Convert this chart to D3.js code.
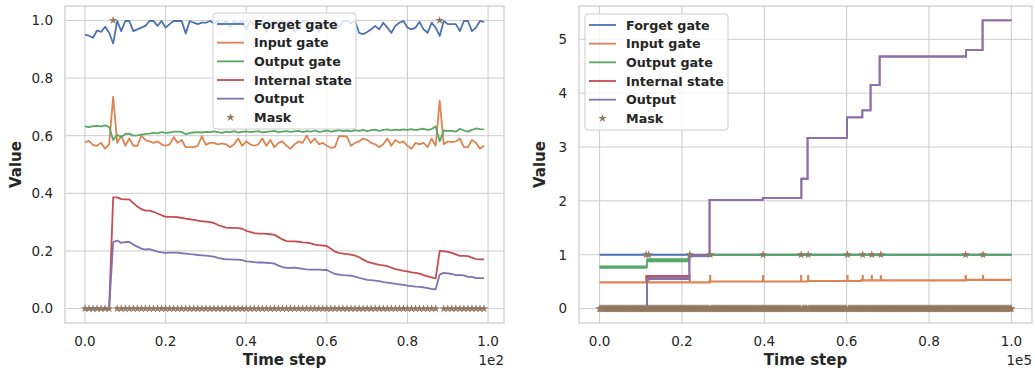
<!DOCTYPE html>
<meta charset="UTF-8">
<style>
body { margin: 0; background: #fff; }
text { font-family: "DejaVu Sans", sans-serif; fill: #262626; }
.tick-label { font-size: 13.5px; }
.axis-label { font-size: 15px; font-weight: bold; }
.legend-label { font-size: 12.7px; font-weight: bold; }
.grid { stroke: #cccccc; stroke-width: 1; }
.frame { fill: none; stroke: #cccccc; stroke-width: 1.25; }
</style>
<body>
<script src="https://d3js.org/d3.v7.min.js"></script>
<script>

var seriesNames = ["Forget gate", "Input gate", "Output gate", "Internal state", "Output", "Mask"];
var colors = ["#4c72b0", "#dd8452", "#55a868", "#c44e52", "#8172b3", "#937860"];

// ---- left panel: 100 time steps ----
var leftForget = [0.950,0.947,0.940,0.965,0.960,0.978,0.957,0.920,0.998,0.963,
  0.998,0.998,0.963,0.969,0.975,0.981,0.998,0.998,0.981,0.998,
  0.975,0.987,0.998,0.998,0.998,0.955,0.998,0.992,0.987,0.992,
  0.992,0.998,0.990,0.998,0.985,0.998,0.975,0.998,0.990,0.998,
  0.970,0.998,0.985,0.998,0.998,0.960,0.990,0.998,0.980,0.998,
  0.990,0.998,0.960,0.975,0.998,0.998,0.970,0.995,0.960,0.980,
  0.998,0.985,0.998,0.975,0.998,0.998,0.990,0.998,0.957,0.952,
  0.960,0.969,0.981,0.969,0.992,0.975,0.957,0.981,0.992,0.998,
  0.975,0.969,0.975,0.995,0.969,0.957,0.992,0.975,0.946,0.998,
  0.987,0.987,0.987,0.963,0.998,0.998,0.963,0.975,0.998,0.995];
var leftInput = [0.578,0.582,0.568,0.565,0.575,0.555,0.570,0.735,0.575,0.600,
  0.565,0.590,0.565,0.565,0.600,0.585,0.580,0.575,0.580,0.570,
  0.565,0.570,0.595,0.575,0.585,0.560,0.560,0.560,0.565,0.598,
  0.568,0.575,0.575,0.570,0.573,0.570,0.560,0.570,0.590,0.565,
  0.580,0.570,0.565,0.570,0.590,0.565,0.585,0.560,0.575,0.580,
  0.565,0.555,0.570,0.580,0.575,0.600,0.575,0.590,0.570,0.575,
  0.565,0.558,0.560,0.598,0.598,0.597,0.565,0.575,0.580,0.590,
  0.585,0.575,0.570,0.560,0.570,0.590,0.565,0.585,0.575,0.580,
  0.565,0.555,0.575,0.570,0.575,0.560,0.590,0.565,0.722,0.570,
  0.580,0.578,0.580,0.590,0.560,0.560,0.585,0.575,0.555,0.565];
var leftOutputGate = [0.632,0.630,0.633,0.634,0.632,0.636,0.630,0.585,0.603,0.595,
  0.606,0.607,0.600,0.601,0.604,0.606,0.607,0.610,0.608,0.612,
  0.610,0.611,0.614,0.614,0.613,0.605,0.610,0.611,0.612,0.611,
  0.613,0.612,0.615,0.612,0.610,0.614,0.612,0.616,0.611,0.613,
  0.615,0.612,0.614,0.616,0.611,0.613,0.615,0.617,0.612,0.614,
  0.616,0.613,0.615,0.617,0.612,0.616,0.614,0.618,0.613,0.615,
  0.618,0.614,0.617,0.619,0.616,0.618,0.615,0.619,0.617,0.620,
  0.616,0.619,0.621,0.617,0.620,0.622,0.618,0.621,0.619,0.622,
  0.620,0.623,0.619,0.622,0.624,0.620,0.623,0.632,0.580,0.618,
  0.617,0.617,0.614,0.624,0.618,0.614,0.620,0.625,0.623,0.622];
var leftInternal = [0,0,0,0,0,0,0,0.386,0.386,0.380,
  0.379,0.379,0.366,0.354,0.345,0.340,0.340,0.336,0.330,0.324,
  0.318,0.318,0.318,0.317,0.315,0.312,0.310,0.308,0.305,0.303,
  0.302,0.300,0.297,0.290,0.285,0.281,0.280,0.280,0.279,0.277,
  0.270,0.266,0.262,0.260,0.260,0.259,0.258,0.256,0.248,0.240,
  0.234,0.233,0.233,0.232,0.230,0.229,0.226,0.222,0.220,0.219,
  0.217,0.208,0.198,0.193,0.191,0.189,0.187,0.184,0.178,0.170,
  0.163,0.159,0.155,0.152,0.150,0.147,0.142,0.137,0.134,0.131,
  0.129,0.126,0.124,0.121,0.116,0.112,0.108,0.105,0.200,0.199,
  0.197,0.193,0.188,0.183,0.183,0.182,0.177,0.172,0.171,0.171];
var leftOutput = [0,0,0,0,0,0,0,0.231,0.236,0.228,
  0.231,0.231,0.222,0.215,0.208,0.205,0.206,0.202,0.198,0.195,
  0.193,0.194,0.194,0.194,0.192,0.191,0.189,0.188,0.186,0.185,
  0.184,0.182,0.180,0.176,0.173,0.171,0.171,0.170,0.170,0.168,
  0.164,0.163,0.161,0.160,0.160,0.159,0.158,0.156,0.149,0.144,
  0.141,0.141,0.142,0.140,0.138,0.136,0.135,0.135,0.135,0.134,
  0.134,0.127,0.120,0.118,0.116,0.115,0.114,0.111,0.107,0.103,
  0.100,0.099,0.097,0.095,0.092,0.090,0.088,0.086,0.084,0.082,
  0.080,0.078,0.076,0.075,0.074,0.071,0.068,0.067,0.118,0.124,
  0.122,0.120,0.116,0.116,0.115,0.110,0.110,0.106,0.106,0.106];
var leftMaskOn = [7, 88];
var leftXTicks = [0, 20, 40, 60, 80, 100];
var leftYTicks = [0, 0.2, 0.4, 0.6, 0.8, 1.0];

// ---- right panel: 100000 time steps, piecewise levels [start, low, high] ----
var rightEnd = 100000;
var rightForget = [[0, 1.0, 1.0]];
var rightInput = [[0, 0.487, 0.487], [26700, 0.503, 0.503], [50500, 0.512, 0.512],
  [63500, 0.522, 0.522], [89000, 0.533, 0.533]];
var rightInputSpike = 0.625;
var rightOutputGate = [[0, 0.74, 0.80], [11500, 0.86, 0.935], [21800, 0.96, 1.0], [26800, 1.0, 1.0]];
var rightInternal = [[0, 0, 0], [11500, 0.585, 0.62], [21800, 0.96, 1.01], [26700, 2.02, 2.02],
  [39600, 2.05, 2.05], [49000, 2.41, 2.41], [50500, 3.17, 3.17], [60100, 3.55, 3.55],
  [63800, 3.68, 3.68], [65800, 4.15, 4.15], [68000, 4.68, 4.68], [89000, 4.80, 4.80],
  [93000, 5.35, 5.35]];
var rightOutput = [[0, 0, 0], [11500, 0.53, 0.585], [21800, 0.955, 1.005], [26700, 2.02, 2.02],
  [39600, 2.05, 2.05], [49000, 2.41, 2.41], [50500, 3.17, 3.17], [60100, 3.55, 3.55],
  [63800, 3.68, 3.68], [65800, 4.15, 4.15], [68000, 4.68, 4.68], [89000, 4.80, 4.80],
  [93000, 5.35, 5.35]];
var rightMaskOn = [11300, 11900, 21900, 26850, 39700, 48950, 50650, 60200, 63900, 66100, 68300, 88900, 93100];
var rightMaskSampling = 200;
var rightXTicks = [0, 20000, 40000, 60000, 80000, 100000];
var rightYTicks = [0, 1, 2, 3, 4, 5];

var W = 1035, H = 373;
var svg = d3.select("body").append("svg").attr("width", W).attr("height", H);

var star = d3.symbol().type(d3.symbolStar).size(22);
var lw = 1.8;

function padded(lo, hi) {
  var p = (hi - lo) * 0.05;
  return [lo - p, hi + p];
}

function drawFrame(g, x, y, xTicks, yTicks, xFmt, yFmt, offsetText, box) {
  g.selectAll(".gx").data(xTicks).enter().append("line").attr("class", "grid")
    .attr("x1", d => x(d)).attr("x2", d => x(d)).attr("y1", box.top).attr("y2", box.bottom);
  g.selectAll(".gy").data(yTicks).enter().append("line").attr("class", "grid")
    .attr("y1", d => y(d)).attr("y2", d => y(d)).attr("x1", box.left).attr("x2", box.right);
  g.append("rect").attr("class", "frame")
    .attr("x", box.left).attr("y", box.top)
    .attr("width", box.right - box.left).attr("height", box.bottom - box.top);

  g.selectAll(".tx").data(xTicks).enter().append("text").attr("class", "tick-label")
    .attr("x", d => x(d)).attr("y", box.bottom + 23).attr("text-anchor", "middle")
    .text(xFmt);
  g.selectAll(".ty").data(yTicks).enter().append("text").attr("class", "tick-label")
    .attr("x", box.left - 12).attr("y", d => y(d)).attr("dy", "0.36em").attr("text-anchor", "end")
    .text(yFmt);

  g.append("text").attr("class", "tick-label").attr("x", box.right).attr("y", box.bottom + 42)
    .attr("text-anchor", "end").text(offsetText);
  g.append("text").attr("class", "axis-label").attr("x", (box.left + box.right) / 2).attr("y", box.bottom + 42)
    .attr("text-anchor", "middle").text("Time step");
  g.append("text").attr("class", "axis-label")
    .attr("transform", "translate(" + box.yLabelX + "," + (box.top + box.bottom) / 2 + ") rotate(-90)")
    .attr("text-anchor", "middle").text("Value");
}

function drawLegend(g, left, top) {
  var rowH = 18.67;
  g.append("rect").attr("x", left).attr("y", top).attr("width", 143).attr("height", 116)
    .attr("rx", 3).attr("fill", "#fff").attr("fill-opacity", 0.8)
    .attr("stroke", "#cccccc").attr("stroke-width", 1);
  seriesNames.forEach(function(name, i) {
    var cy = top + 11 + i * rowH;
    if (i < 5) {
      g.append("line").attr("x1", left + 4).attr("x2", left + 31).attr("y1", cy).attr("y2", cy)
        .attr("stroke", colors[i]).attr("stroke-width", lw);
    } else {
      g.append("path").attr("d", star).attr("transform", "translate(" + (left + 17.5) + "," + cy + ")")
        .attr("fill", colors[5]);
    }
    g.append("text").attr("class", "legend-label").attr("x", left + 41).attr("y", cy)
      .attr("dy", "0.36em").text(name);
  });
}

// ---------- left ----------
(function() {
  var box = {left: 65, right: 504, top: 6, bottom: 323, yLabelX: 21};
  var steps = d3.range(leftForget.length);
  var mask = steps.map(t => leftMaskOn.indexOf(t) >= 0 ? 1 : 0);
  var x = d3.scaleLinear().domain(padded(0, steps.length - 1)).range([box.left, box.right]);
  var yMax = d3.max([leftForget, leftInput, leftOutputGate, leftInternal, leftOutput, mask], a => d3.max(a));
  var y = d3.scaleLinear().domain(padded(0, yMax)).range([box.bottom, box.top]);
  var g = svg.append("g");

  drawFrame(g, x, y, leftXTicks, leftYTicks, d => d3.format(".1f")(d / 100), d => d3.format(".1f")(d), "1e2", box);

  var line = d3.line().x((d, i) => x(i)).y(d => y(d));
  [leftForget, leftInput, leftOutputGate, leftInternal, leftOutput].forEach(function(s, k) {
    g.append("path").attr("d", line(s)).attr("fill", "none")
      .attr("stroke", colors[k]).attr("stroke-width", lw).attr("stroke-linejoin", "round");
  });
  g.selectAll(".mk").data(mask).enter().append("path")
    .attr("d", star).attr("fill", colors[5])
    .attr("transform", (d, i) => "translate(" + x(i) + "," + y(d) + ")");

  drawLegend(g, 213, 13);
})();

// ---------- right ----------
(function() {
  var box = {left: 579, right: 1032, top: 6, bottom: 323, yLabelX: 545};
  var x = d3.scaleLinear().domain(padded(0, rightEnd)).range([box.left, box.right]);
  var all = [rightForget, rightInput, rightOutputGate, rightInternal, rightOutput];
  var yMax = d3.max(all, s => d3.max(s, d => d[2]));
  var y = d3.scaleLinear().domain(padded(0, yMax)).range([box.bottom, box.top]);
  var g = svg.append("g");

  drawFrame(g, x, y, rightXTicks, rightYTicks, d => d3.format(".1f")(d / 100000), d => d, "1e5", box);

  function stepPoints(segs, spikes, spikeTop) {
    var pts = [];
    segs.forEach(function(s, i) {
      var start = s[0], end = i < segs.length - 1 ? segs[i + 1][0] : rightEnd;
      var mid = (s[1] + s[2]) / 2;
      pts.push([start, mid]);
      (spikes || []).filter(m => m > start && m < end).forEach(function(m) {
        pts.push([m, mid], [m, spikeTop], [m + 1, mid]);
      });
      pts.push([end, mid]);
    });
    return pts;
  }
  var line = d3.line().x(d => x(d[0])).y(d => y(d[1]));

  all.forEach(function(segs, k) {
    var pts = k === 1 ? stepPoints(segs, rightMaskOn, rightInputSpike) : stepPoints(segs);
    g.append("path").attr("d", line(pts)).attr("fill", "none")
      .attr("stroke", colors[k]).attr("stroke-width", k === 1 ? 2.2 : lw);
    // noisy stretches drawn as filled bands
    segs.forEach(function(s, i) {
      if (s[2] > s[1]) {
        var end = i < segs.length - 1 ? segs[i + 1][0] : rightEnd;
        g.append("rect").attr("x", x(s[0])).attr("width", x(end) - x(s[0]))
          .attr("y", y(s[2])).attr("height", y(s[1]) - y(s[2]))
          .attr("fill", colors[k]);
      }
    });
  });

  var maskTimes = d3.range(0, rightEnd + 1, rightMaskSampling)
    .filter(t => rightMaskOn.every(m => Math.abs(m - t) >= rightMaskSampling / 2));
  g.selectAll(".mk0").data(maskTimes).enter().append("path")
    .attr("d", star).attr("fill", colors[5])
    .attr("transform", d => "translate(" + x(d) + "," + y(0) + ")");
  g.selectAll(".mk1").data(rightMaskOn).enter().append("path")
    .attr("d", star).attr("fill", colors[5])
    .attr("transform", d => "translate(" + x(d) + "," + y(1) + ")");

  drawLegend(g, 585, 14);
})();

</script>
</body>
